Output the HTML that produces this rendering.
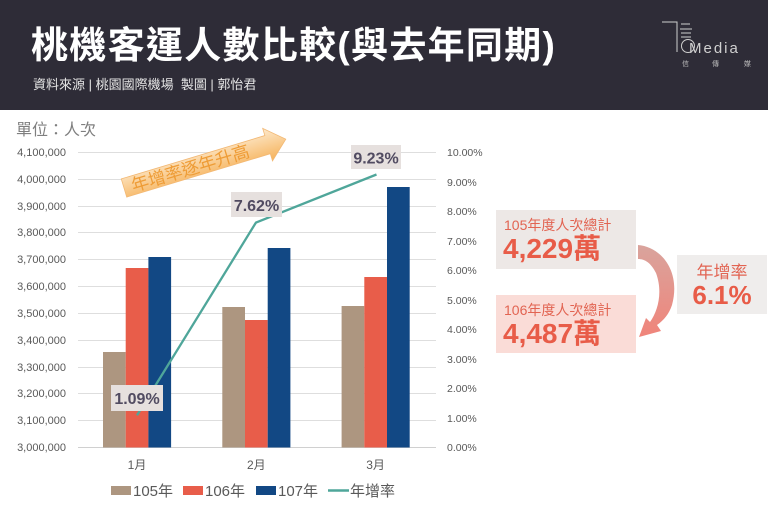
<!DOCTYPE html>
<html><head><meta charset="utf-8">
<style>
html,body{margin:0;padding:0;background:#fff;}
svg{display:block;}
text{font-family:"Liberation Sans","Noto Sans CJK TC",sans-serif;}
</style></head>
<body>
<svg width="768" height="512" viewBox="0 0 768 512" xmlns="http://www.w3.org/2000/svg">
<defs>
<linearGradient id="og" x1="0" y1="0" x2="0" y2="1">
<stop offset="0" stop-color="#fde9cc"/><stop offset="1" stop-color="#f6b25a"/>
</linearGradient>
<linearGradient id="pg" x1="0" y1="0" x2="0" y2="1">
<stop offset="0" stop-color="#d9a49d"/><stop offset="1" stop-color="#f0847a"/>
</linearGradient>
</defs>
<rect x="0" y="0" width="768" height="110" fill="#2e2c37"/>
<text x="31" y="58" font-size="37" font-weight="bold" fill="#ffffff" letter-spacing="1.3">桃機客運人數比較(與去年同期)</text>
<text x="33" y="89" font-size="13" fill="#e6e6e6" xml:space="preserve">資料來源 | 桃園國際機場  製圖 | 郭怡君</text>
<!-- logo -->
<g stroke="#cfcfcf" stroke-width="1" fill="none">
<polyline points="662,22 677,22 677,52"/>
<line x1="681" y1="24" x2="690" y2="24"/><line x1="680" y1="29" x2="692" y2="29"/><line x1="681" y1="33" x2="691" y2="33"/><line x1="681" y1="37" x2="691" y2="37"/>
<circle cx="688" cy="46" r="6.5"/>
</g>
<text x="689" y="53" font-size="15" fill="#d0d0d0" letter-spacing="2">Media</text>
<text x="682" y="66" font-size="7" fill="#bdbdbd">信</text>
<text x="712" y="66" font-size="7" fill="#bdbdbd">傳</text>
<text x="744" y="66" font-size="7" fill="#bdbdbd">媒</text>

<text x="16" y="135" font-size="16" fill="#7f7f7f">單位：人次</text>

<!-- grid -->
<g stroke="#dedede" stroke-width="1">
<line x1="78" y1="152.5" x2="436" y2="152.5"/>
<line x1="78" y1="179.5" x2="436" y2="179.5"/>
<line x1="78" y1="206.5" x2="436" y2="206.5"/>
<line x1="78" y1="232.5" x2="436" y2="232.5"/>
<line x1="78" y1="259.5" x2="436" y2="259.5"/>
<line x1="78" y1="286.5" x2="436" y2="286.5"/>
<line x1="78" y1="313.5" x2="436" y2="313.5"/>
<line x1="78" y1="340.5" x2="436" y2="340.5"/>
<line x1="78" y1="367.5" x2="436" y2="367.5"/>
<line x1="78" y1="393.5" x2="436" y2="393.5"/>
<line x1="78" y1="420.5" x2="436" y2="420.5"/>
<line x1="78" y1="447.5" x2="436" y2="447.5" stroke="#d0d0d0"/>
</g>
<g font-size="11" fill="#595959" text-anchor="end">
<text x="66" y="156">4,100,000</text>
<text x="66" y="183">4,000,000</text>
<text x="66" y="210">3,900,000</text>
<text x="66" y="236">3,800,000</text>
<text x="66" y="263">3,700,000</text>
<text x="66" y="290">3,600,000</text>
<text x="66" y="317">3,500,000</text>
<text x="66" y="344">3,400,000</text>
<text x="66" y="371">3,300,000</text>
<text x="66" y="397">3,200,000</text>
<text x="66" y="424">3,100,000</text>
<text x="66" y="451">3,000,000</text>
</g>
<g font-size="10.5" fill="#595959">
<text x="447" y="156">10.00%</text>
<text x="447" y="186">9.00%</text>
<text x="447" y="215">8.00%</text>
<text x="447" y="245">7.00%</text>
<text x="447" y="274">6.00%</text>
<text x="447" y="304">5.00%</text>
<text x="447" y="333">4.00%</text>
<text x="447" y="363">3.00%</text>
<text x="447" y="392">2.00%</text>
<text x="447" y="422">1.00%</text>
<text x="447" y="451">0.00%</text>
</g>

<!-- bars -->
<rect x="103" y="352" width="22.7" height="95.5" fill="#ad9680"/>
<rect x="125.7" y="268" width="22.7" height="179.5" fill="#e85d4a"/>
<rect x="148.4" y="257" width="22.7" height="190.5" fill="#124884"/>
<rect x="222.3" y="307" width="22.7" height="140.5" fill="#ad9680"/>
<rect x="245" y="320" width="22.7" height="127.5" fill="#e85d4a"/>
<rect x="267.7" y="248" width="22.7" height="199.5" fill="#124884"/>
<rect x="341.6" y="306" width="22.7" height="141.5" fill="#ad9680"/>
<rect x="364.3" y="277" width="22.7" height="170.5" fill="#e85d4a"/>
<rect x="387" y="187" width="22.7" height="260.5" fill="#124884"/>

<polyline points="137,415.3 256,222.5 376.5,174.5" fill="none" stroke="#4fa69a" stroke-width="2.3"/>

<rect x="111" y="385" width="52" height="26" fill="#e6e0de"/>
<text x="137" y="404" font-size="16" font-weight="bold" fill="#514b61" text-anchor="middle">1.09%</text>
<rect x="231" y="192" width="51" height="25" fill="#e6e0de"/>
<text x="256.5" y="211" font-size="16" font-weight="bold" fill="#514b61" text-anchor="middle">7.62%</text>
<rect x="351" y="145" width="50" height="24" fill="#e6e0de"/>
<text x="376" y="163.5" font-size="16" font-weight="bold" fill="#514b61" text-anchor="middle">9.23%</text>

<g font-size="12" fill="#595959" text-anchor="middle">
<text x="137" y="469">1月</text>
<text x="256.3" y="469">2月</text>
<text x="375.6" y="469">3月</text>
</g>

<!-- legend -->
<rect x="111" y="486" width="20" height="9" fill="#ad9680"/>
<text x="133" y="496" font-size="15" fill="#595959">105年</text>
<rect x="183" y="486" width="20" height="9" fill="#e85d4a"/>
<text x="205" y="496" font-size="15" fill="#595959">106年</text>
<rect x="256" y="486" width="20" height="9" fill="#124884"/>
<text x="278" y="496" font-size="15" fill="#595959">107年</text>
<line x1="328" y1="490.5" x2="349" y2="490.5" stroke="#4fa69a" stroke-width="2.5"/>
<text x="350" y="496" font-size="15" fill="#595959">年增率</text>

<!-- orange arrow -->
<g transform="translate(124,188) rotate(-16.8)">
<polygon points="0,-9.5 150,-9.5 150,-17 169,0 150,17 150,9.5 0,9.5" fill="url(#og)" stroke="#f2b874" stroke-width="0.8"/>
<text x="8" y="6.5" font-size="17.5" fill="#ee9c36">年增率逐年升高</text>
</g>

<!-- right boxes -->
<rect x="496" y="210" width="140" height="59" fill="#ede8e6"/>
<text x="504" y="230" font-size="14" fill="#e26452">105年度人次總計</text>
<text x="503" y="258" font-size="28" font-weight="bold" fill="#e85c48">4,229萬</text>
<rect x="496" y="295" width="140" height="58" fill="#fadcd7"/>
<text x="504" y="315" font-size="14" fill="#e26452">106年度人次總計</text>
<text x="503" y="343" font-size="28" font-weight="bold" fill="#e85c48">4,487萬</text>
<rect x="677" y="255" width="90" height="59" fill="#efedec"/>
<text x="722" y="278" font-size="17" fill="#e26452" text-anchor="middle">年增率</text>
<text x="722" y="304" font-size="26" font-weight="bold" fill="#e85c48" text-anchor="middle">6.1%</text>

<!-- pink curved arrow -->
<path d="M638,245 C662,247 681,272 672,305 C669,314 664,320 657,325 L661,331 L639,337 L646,318 L650,322 C658,311 663,292 656,273 C651,263 645,259 638,259 Z" fill="url(#pg)"/>
</svg>
</body></html>
